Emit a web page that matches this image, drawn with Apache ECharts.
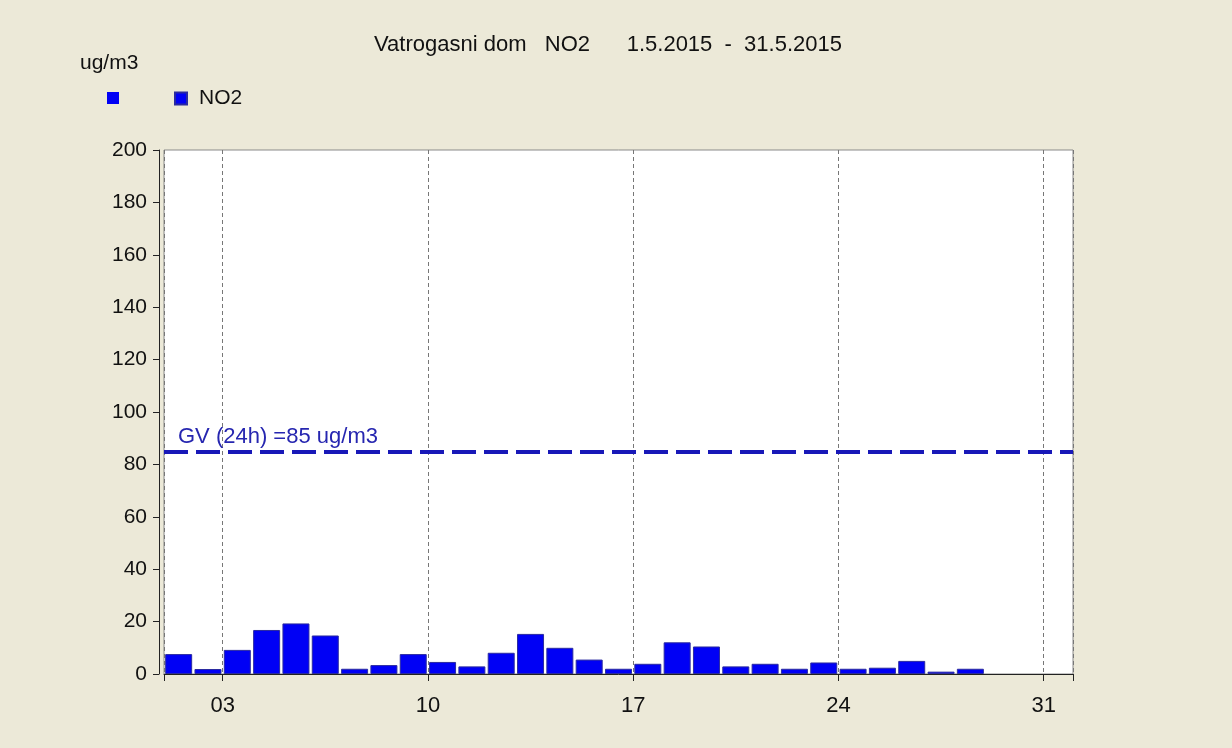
<!DOCTYPE html>
<html>
<head>
<meta charset="utf-8">
<script src="https://cdn.jsdelivr.net/npm/echarts@6/dist/echarts.min.js"></script>
<style>
html,body{margin:0;padding:0;background:#ece9d8;}
#chart{width:1232px;height:748px;}
</style>
</head>
<body>
<div id="chart"></div>
<script>
// Data
const days = [1,2,3,4,5,6,7,8,9,10,11,12,13,14,15,16,17,18,19,20,21,22,23,24,25,26,27,28,29,30,31];
const no2Values = [7.6,1.9,9.2,16.8,19.3,14.7,2.0,3.4,7.6,4.6,2.9,8.1,15.3,10.0,5.5,2.0,3.9,12.1,10.5,2.9,3.9,2.0,4.4,2.0,2.4,5.0,0.9,2.0,null,null,null];
const limitValue = 85;
const limitLabel = 'GV (24h) =85 ug/m3';
const xTickDays = [3,10,17,24,31];
const yTicks = [0,20,40,60,80,100,120,140,160,180,200];
const titleText = 'Vatrogasni dom   NO2      1.5.2015  -  31.5.2015';
const unitText = 'ug/m3';

const barData = days.map((d,i)=>[d+0.5, no2Values[i]]);

const chart = echarts.init(document.getElementById('chart'));
const font = 'Liberation Sans, Arial, sans-serif';
chart.setOption({
  backgroundColor:'#ece9d8',
  animation:false,
  title:[{
    text:titleText, left:374, top:34, padding:0,
    textStyle:{fontFamily:font,fontSize:22,fontWeight:'normal',color:'#111'}
  },{
    text:unitText, left:80, top:53, padding:0,
    textStyle:{fontFamily:font,fontSize:21,fontWeight:'normal',color:'#111'}
  }],
  legend:[{
    left:107, top:92, itemWidth:12, itemHeight:12, icon:'rect', padding:0,
    data:['GV'], formatter:()=>'',
    textStyle:{fontFamily:font,fontSize:21,color:'#111'}
  },{
    left:174, top:88, itemWidth:12, itemHeight:12, icon:'rect', padding:0,
    data:['NO2'],
    textStyle:{fontFamily:font,fontSize:21,color:'#111',padding:[0,0,0,7]}
  }],
  grid:{left:164,top:150,width:909,height:524,show:true,backgroundColor:'#fff',borderColor:'#8a8a8a',borderWidth:1},
  xAxis:{
    type:'value', min:1, max:32, offset:4,
    axisLine:{show:true,lineStyle:{color:'#222',width:1}},
    axisTick:{show:true,length:7,customValues:[1].concat(xTickDays,[32]),lineStyle:{color:'#222'}},
    axisLabel:{customValues:xTickDays,fontFamily:font,fontSize:22,color:'#111',margin:17,
      formatter:v=>String(v).padStart(2,'0')},
    splitLine:{show:true,lineStyle:{color:'#777',type:[4,3],width:1}}
  },
  yAxis:{
    type:'value', min:0, max:200, interval:20, offset:5,
    axisLine:{show:true,lineStyle:{color:'#222',width:1}},
    axisTick:{show:true,length:6,lineStyle:{color:'#222'}},
    axisLabel:{fontFamily:font,fontSize:21,color:'#111',margin:12,
      customValues:yTicks},
    splitLine:{show:false}
  },
  series:[{
    name:'NO2', type:'bar', data:barData, barWidth:27,
    itemStyle:{color:'#0000f5',borderColor:'#2a2aa0',borderWidth:1}
  },{
    name:'GV', type:'line', data:[], color:'#0000f5',
    markLine:{
      silent:true, symbol:'none',
      lineStyle:{color:'#1818b8',width:4,type:[24,8]},
      label:{show:true,position:'insideStartTop',formatter:limitLabel,
        fontFamily:font,fontSize:22,color:'#2626b0',distance:[14,3]},
      data:[{yAxis:limitValue}]
    }
  }]
});
</script>
</body>
</html>
